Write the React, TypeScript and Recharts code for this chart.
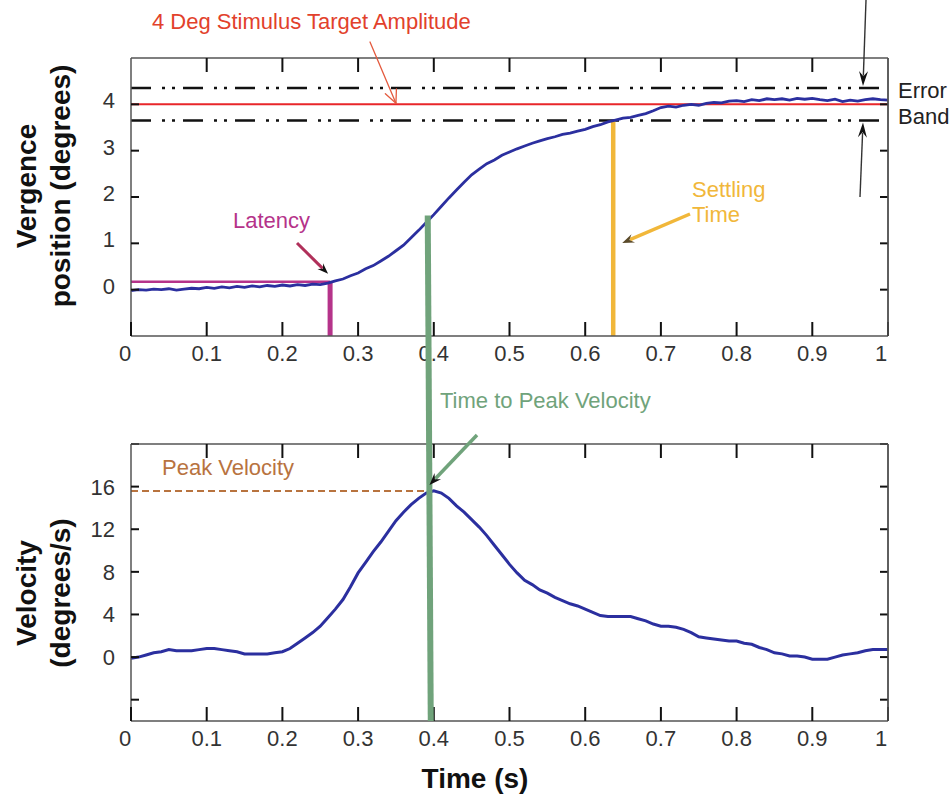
import React from "react";
import { LineChart, Line, XAxis, YAxis, ReferenceLine } from "recharts";

const FONT = '"Liberation Sans", Arial, Helvetica, sans-serif';

// ---- data ----
const times = [
  0.0, 0.01, 0.02, 0.03, 0.04, 0.05, 0.06, 0.07, 0.08, 0.09,
  0.1, 0.11, 0.12, 0.13, 0.14, 0.15, 0.16, 0.17, 0.18, 0.19,
  0.2, 0.21, 0.22, 0.23, 0.24, 0.25, 0.26, 0.27, 0.28, 0.29,
  0.3, 0.31, 0.32, 0.33, 0.34, 0.35, 0.36, 0.37, 0.38, 0.39,
  0.4, 0.41, 0.42, 0.43, 0.44, 0.45, 0.46, 0.47, 0.48, 0.49,
  0.5, 0.51, 0.52, 0.53, 0.54, 0.55, 0.56, 0.57, 0.58, 0.59,
  0.6, 0.61, 0.62, 0.63, 0.64, 0.65, 0.66, 0.67, 0.68, 0.69,
  0.7, 0.71, 0.72, 0.73, 0.74, 0.75, 0.76, 0.77, 0.78, 0.79,
  0.8, 0.81, 0.82, 0.83, 0.84, 0.85, 0.86, 0.87, 0.88, 0.89,
  0.9, 0.91, 0.92, 0.93, 0.94, 0.95, 0.96, 0.97, 0.98, 0.99, 1.0,
];

const vergencePosition = [
  -0.02, 0.0, -0.01, 0.01, 0.0, 0.02, -0.01, 0.01, 0.03, 0.02,
  0.05, 0.03, 0.06, 0.04, 0.07, 0.05, 0.08, 0.06, 0.09, 0.07,
  0.1, 0.08, 0.11, 0.09, 0.12, 0.11, 0.14, 0.19, 0.23, 0.3,
  0.36, 0.45, 0.52, 0.62, 0.72, 0.84, 0.96, 1.12, 1.28, 1.45,
  1.62, 1.8, 1.98, 2.15, 2.32, 2.48, 2.6, 2.72, 2.8, 2.9,
  2.97, 3.04, 3.1, 3.16, 3.21, 3.26, 3.3, 3.35, 3.38, 3.42,
  3.46, 3.52, 3.56, 3.62, 3.66, 3.7, 3.72, 3.76, 3.8, 3.86,
  3.93, 3.96, 3.94, 3.98, 4.0, 3.98, 4.02, 4.04, 4.03, 4.07,
  4.08, 4.06, 4.1, 4.08, 4.12, 4.1, 4.12, 4.09, 4.13, 4.11,
  4.13, 4.1, 4.08, 4.11, 4.06, 4.09, 4.07, 4.1, 4.12, 4.1, 4.09,
];

const vergenceVelocity = [
  -0.1, 0.0, 0.2, 0.4, 0.5, 0.7, 0.6, 0.6, 0.6, 0.7,
  0.8, 0.8, 0.7, 0.6, 0.5, 0.3, 0.3, 0.3, 0.3, 0.4,
  0.5, 0.8, 1.3, 1.8, 2.3, 2.9, 3.7, 4.5, 5.4, 6.6,
  7.9, 8.9, 9.9, 10.8, 11.8, 12.8, 13.6, 14.3, 14.9, 15.4,
  15.6, 15.4, 14.9, 14.2, 13.6, 12.9, 12.2, 11.4, 10.5, 9.6,
  8.7, 7.9, 7.2, 6.8, 6.3, 6.0, 5.6, 5.3, 5.0, 4.8,
  4.5, 4.2, 3.9, 3.8, 3.8, 3.8, 3.8, 3.6, 3.4, 3.1,
  2.9, 2.9, 2.8, 2.6, 2.3, 1.9, 1.8, 1.7, 1.6, 1.5,
  1.5, 1.3, 1.2, 0.9, 0.7, 0.4, 0.3, 0.1, 0.1, 0.0,
  -0.2, -0.2, -0.2, 0.0, 0.2, 0.3, 0.4, 0.6, 0.7, 0.7, 0.7,
];

const xTicks = [0, 0.1, 0.2, 0.3, 0.4, 0.5, 0.6, 0.7, 0.8, 0.9, 1];
const xTickLabels = ["0", "0.1", "0.2", "0.3", "0.4", "0.5", "0.6", "0.7", "0.8", "0.9", "1"];
const innerXTicks = [0.1, 0.2, 0.3, 0.4, 0.5, 0.6, 0.7, 0.8, 0.9];
const posTicks = [0, 1, 2, 3, 4];
const posTickLabels = ["0", "1", "2", "3", "4"];
const velTicks = [-4, 0, 4, 8, 12, 16, 20];
const velTickLabels = ["", "0", "4", "8", "12", "16", ""];

// annotation values (data units)
const targetAmplitude = 4;
const errorBandHigh = 4.35;
const errorBandLow = 3.65;
const latencyTime = 0.263;
const latencyLevel = 0.17;
const settlingTime = 0.637;
const peakVelocity = 15.6;
const peakTime = 0.393;

const posData = times.map((t, i) => ({ t, pos: vergencePosition[i] }));
const velData = times.map((t, i) => ({ t, vel: vergenceVelocity[i] }));

// ---- layout ----
const W = 950;
const PL = 131;
const PR = 888;
const TOP_H = 370;
const TOP_PT = 58;
const TOP_PB = 336;
const BOT_H = 424;
const BOT_PT = 444;
const BOT_PB = 721;
const POS_DOMAIN: [number, number] = [-1, 5];
const VEL_DOMAIN: [number, number] = [-6, 20];
const X_TICK_LEN = 14;

const px = (t: number) => PL + (t * (PR - PL));
const pyTop = (v: number) => TOP_PT + ((POS_DOMAIN[1] - v) / (POS_DOMAIN[1] - POS_DOMAIN[0])) * (TOP_PB - TOP_PT);
const pyBot = (v: number) => BOT_PT + ((VEL_DOMAIN[1] - v) / (VEL_DOMAIN[1] - VEL_DOMAIN[0])) * (BOT_PB - BOT_PT);

const AXIS = { stroke: "#555", strokeWidth: 1.5 };
const BOX = "#555";
const TICK_COLOR = "#111";
const OV = "visible" as const;

const labelFor = (ticks: number[], labels: string[], v: number) => {
  const i = ticks.findIndex((k) => Math.abs(k - v) < 1e-9);
  return i >= 0 ? labels[i] : "";
};

const BottomTick = (props: any) => {
  const { x, y, payload } = props;
  const v = payload.value;
  const lab = labelFor(xTicks, xTickLabels, v);
  const dx = v === 0 ? -6 : v === 1 ? -7 : 0;
  return (
    <g>
      <line x1={x} y1={y} x2={x} y2={y - X_TICK_LEN} stroke={TICK_COLOR} strokeWidth={2} />
      <text x={x + dx} y={y + 25} textAnchor="middle" fontSize={22} fill="#333" fontFamily={FONT}>
        {lab}
      </text>
    </g>
  );
};

const makeLeftTick = (ticks: number[], labels: string[], dy: number) => (props: any) => {
  const { x, y, payload } = props;
  const lab = labelFor(ticks, labels, payload.value);
  return (
    <g>
      <line x1={x} y1={y} x2={x + 8} y2={y} stroke={TICK_COLOR} strokeWidth={2} />
      <text x={x - 16} y={y + dy} textAnchor="end" fontSize={22} fill="#333" fontFamily={FONT}>
        {lab}
      </text>
    </g>
  );
};

const RightTick = (props: any) => {
  const { x, y } = props;
  return <line x1={x} y1={y} x2={x - 8} y2={y} stroke={TICK_COLOR} strokeWidth={2} />;
};

const PosLeftTick = makeLeftTick(posTicks, posTickLabels, 4);
const VelLeftTick = makeLeftTick(velTicks, velTickLabels, 8);

type ArrowProps = {
  x1: number; y1: number; x2: number; y2: number;
  stroke: string; sw: number; head?: string; hl?: number; hw?: number; open?: boolean;
};

const Arrow = ({ x1, y1, x2, y2, stroke, sw, head = "#111", hl = 12, hw = 4.5, open = false }: ArrowProps) => {
  const dx = x2 - x1;
  const dy = y2 - y1;
  const len = Math.hypot(dx, dy);
  const ux = dx / len;
  const uy = dy / len;
  const bx = x2 - ux * hl;
  const by = y2 - uy * hl;
  const nx = -uy * hw;
  const ny = ux * hw;
  if (open) {
    return (
      <g fill="none" stroke={stroke} strokeWidth={sw} strokeLinecap="round">
        <line x1={x1} y1={y1} x2={x2} y2={y2} />
        <line x1={x2} y1={y2} x2={bx + nx} y2={by + ny} />
        <line x1={x2} y1={y2} x2={bx - nx} y2={by - ny} />
      </g>
    );
  }
  const sx = x2 - ux * hl * 0.7;
  const sy = y2 - uy * hl * 0.7;
  return (
    <g>
      <line x1={x1} y1={y1} x2={sx} y2={sy} stroke={stroke} strokeWidth={sw} />
      <polygon
        points={`${x2},${y2} ${bx + nx},${by + ny} ${x2 - ux * hl * 0.65},${y2 - uy * hl * 0.65} ${bx - nx},${by - ny}`}
        fill={head}
      />
    </g>
  );
};

// frame: top/right edges and inward top ticks of a panel
const Frame = ({ top, bottom }: { top: number; bottom: number }) => (
  <g>
    <line x1={PL} y1={top} x2={PR} y2={top} stroke={BOX} strokeWidth={1.5} />
    <line x1={PR} y1={top} x2={PR} y2={bottom} stroke={BOX} strokeWidth={1.5} />
    {innerXTicks.map((t) => (
      <line key={t} x1={px(t)} y1={top} x2={px(t)} y2={top + X_TICK_LEN} stroke={TICK_COLOR} strokeWidth={2} />
    ))}
  </g>
);

const BLUE = "#2b2f9f";
const RED = "#e8262a";
const MAGENTA = "#b5338a";
const ORANGE = "#f1b73a";
const GREEN = "#70a37b";
const BROWN = "#b8733f";

export default function App() {
  return (
    <div style={{ position: "absolute", left: 0, top: 0, width: W, height: 794, background: "#fff", fontFamily: FONT }}>
      <div style={{ position: "absolute", left: 0, top: 0 }}>
        <LineChart width={W} height={TOP_H} data={posData}
          margin={{ top: TOP_PT, right: W - PR - 1, bottom: 0, left: PL - 60 }}>
          <XAxis xAxisId="b" dataKey="t" type="number" domain={[0, 1]} ticks={xTicks} interval={0}
            orientation="bottom" height={TOP_H - TOP_PB} axisLine={AXIS} tickLine={false} tickSize={0} tickMargin={0}
            tick={(p: any) => <BottomTick {...p} />} allowDataOverflow />
          <YAxis yAxisId="l" type="number" domain={POS_DOMAIN} ticks={posTicks} interval={0}
            orientation="left" width={60} axisLine={AXIS} tickLine={false} tickSize={0} tickMargin={0}
            tick={(p: any) => <PosLeftTick {...p} />} allowDataOverflow />
          <YAxis yAxisId="r" type="number" domain={POS_DOMAIN} ticks={posTicks} interval={0}
            orientation="right" width={1} axisLine={AXIS} tickLine={false} tickSize={0} tickMargin={0}
            tick={(p: any) => <RightTick {...p} />} allowDataOverflow />
          <ReferenceLine xAxisId="b" yAxisId="l" ifOverflow={OV} y={targetAmplitude} stroke={RED} strokeWidth={2} />
          <ReferenceLine xAxisId="b" yAxisId="l" ifOverflow={OV} segment={[{ x: 0, y: errorBandHigh }, { x: 0.99, y: errorBandHigh }]}
            stroke="#111" strokeWidth={2.5} strokeDasharray="20 11 3 7 3 8" />
          <ReferenceLine xAxisId="b" yAxisId="l" ifOverflow={OV} segment={[{ x: 0, y: errorBandLow }, { x: 0.99, y: errorBandLow }]}
            stroke="#111" strokeWidth={2.5} strokeDasharray="20 11 3 7 3 8" />
          <ReferenceLine xAxisId="b" yAxisId="l" ifOverflow={OV} segment={[{ x: 0, y: latencyLevel }, { x: latencyTime, y: latencyLevel }]}
            stroke={MAGENTA} strokeWidth={2.5} />
          <ReferenceLine xAxisId="b" yAxisId="l" ifOverflow={OV} segment={[{ x: latencyTime, y: latencyLevel }, { x: latencyTime, y: POS_DOMAIN[0] }]}
            stroke={MAGENTA} strokeWidth={5} />
          <ReferenceLine xAxisId="b" yAxisId="l" ifOverflow={OV} segment={[{ x: settlingTime, y: errorBandLow }, { x: settlingTime, y: POS_DOMAIN[0] }]}
            stroke={ORANGE} strokeWidth={4.5} />
          <Line xAxisId="b" yAxisId="l" dataKey="pos" type="linear" stroke={BLUE} strokeWidth={2.8} dot={false}
            isAnimationActive={false} />
        </LineChart>
      </div>
      <div style={{ position: "absolute", left: 0, top: TOP_H }}>
        <LineChart width={W} height={BOT_H} data={velData}
          margin={{ top: BOT_PT - TOP_H, right: W - PR - 1, bottom: 0, left: PL - 60 }}>
          <XAxis xAxisId="b" dataKey="t" type="number" domain={[0, 1]} ticks={xTicks} interval={0}
            orientation="bottom" height={TOP_H + BOT_H - BOT_PB} axisLine={AXIS} tickLine={false} tickSize={0} tickMargin={0}
            tick={(p: any) => <BottomTick {...p} />} allowDataOverflow />
          <YAxis yAxisId="l" type="number" domain={VEL_DOMAIN} ticks={velTicks} interval={0}
            orientation="left" width={60} axisLine={AXIS} tickLine={false} tickSize={0} tickMargin={0}
            tick={(p: any) => <VelLeftTick {...p} />} allowDataOverflow />
          <YAxis yAxisId="r" type="number" domain={VEL_DOMAIN} ticks={velTicks} interval={0}
            orientation="right" width={1} axisLine={AXIS} tickLine={false} tickSize={0} tickMargin={0}
            tick={(p: any) => <RightTick {...p} />} allowDataOverflow />
          <ReferenceLine xAxisId="b" yAxisId="l" ifOverflow={OV} segment={[{ x: 0, y: peakVelocity }, { x: peakTime - 0.002, y: peakVelocity }]}
            stroke={BROWN} strokeWidth={2} strokeDasharray="7 4" />
          <Line xAxisId="b" yAxisId="l" dataKey="vel" type="linear" stroke={BLUE} strokeWidth={3} dot={false}
            isAnimationActive={false} />
        </LineChart>
      </div>
      <svg width={W} height={794} style={{ position: "absolute", left: 0, top: 0, pointerEvents: "none" }}>
        <Frame top={TOP_PT} bottom={TOP_PB} />
        <Frame top={BOT_PT} bottom={BOT_PB} />

        {/* time to peak velocity line spanning both panels */}
        <line x1={px(peakTime - 0.001)} y1={pyTop(1.6)} x2={px(peakTime + 0.003)} y2={pyBot(VEL_DOMAIN[0])}
          stroke={GREEN} strokeWidth={6} />

        {/* title & arrow */}
        <text x={152} y={29} fontSize={22} fill="#e2412b" fontFamily={FONT}>4 Deg Stimulus Target Amplitude</text>
        <Arrow x1={370} y1={42} x2={px(0.35)} y2={pyTop(targetAmplitude) - 1} stroke="#e45a3e" sw={1.3} hl={13} hw={6} open />

        {/* error band */}
        <Arrow x1={866} y1={0} x2={863} y2={pyTop(errorBandHigh) - 2} stroke="#333" sw={1.4} hl={15} hw={4.5} />
        <Arrow x1={860} y1={197} x2={863} y2={pyTop(errorBandLow) + 2} stroke="#333" sw={1.4} hl={15} hw={4.5} />
        <text x={898} y={98} fontSize={22} fill="#222" fontFamily={FONT}>Error</text>
        <text x={898} y={124} fontSize={22} fill="#222" fontFamily={FONT}>Band</text>

        {/* latency */}
        <text x={233} y={228} fontSize={22} fill={MAGENTA} fontFamily={FONT}>Latency</text>
        <Arrow x1={297} y1={243} x2={px(latencyTime) - 2} y2={pyTop(latencyLevel) - 8} stroke="#b0305a" sw={3} hl={11} hw={4} />

        {/* settling time */}
        <text x={692} y={197} fontSize={22} fill={ORANGE} fontFamily={FONT}>Settling</text>
        <text x={692} y={222} fontSize={22} fill={ORANGE} fontFamily={FONT}>Time</text>
        <Arrow x1={690} y1={214} x2={px(settlingTime) + 9} y2={243} stroke={ORANGE} sw={3.5} hl={12} hw={4.5} head="#5a4a2a" />

        {/* time to peak velocity */}
        <text x={440} y={408} fontSize={22} fill={GREEN} fontFamily={FONT}>Time to Peak Velocity</text>
        <Arrow x1={477} y1={435} x2={px(peakTime) + 1} y2={pyBot(peakVelocity) - 6} stroke={GREEN} sw={3.5} hl={12} hw={4.5} />

        {/* peak velocity */}
        <text x={162} y={475} fontSize={22} fill={BROWN} fontFamily={FONT}>Peak Velocity</text>

        {/* axis titles */}
        <g fontFamily={FONT} fontWeight="bold" fontSize={28} fill="#111" textAnchor="middle">
          <text transform="translate(36,186) rotate(-90)">Vergence</text>
          <text transform="translate(70,186) rotate(-90)">position (degrees)</text>
          <text transform="translate(36,593) rotate(-90)">Velocity</text>
          <text transform="translate(70,593) rotate(-90)">(degrees/s)</text>
          <text x={475} y={788}>Time (s)</text>
        </g>
      </svg>
    </div>
  );
}
